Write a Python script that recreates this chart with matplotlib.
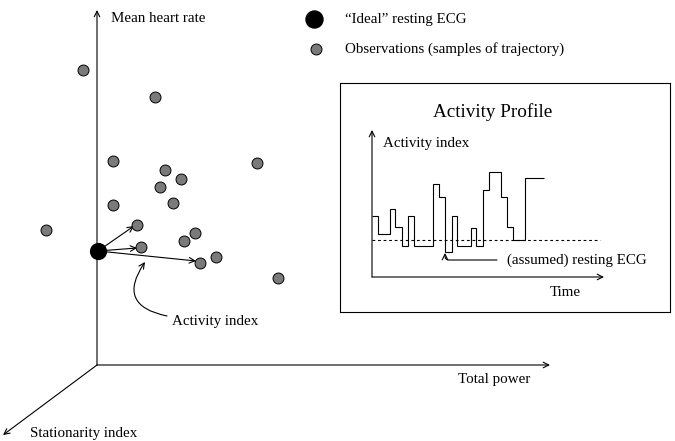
import matplotlib.pyplot as plt

plt.rcParams['font.family'] = ['Liberation Serif', 'DejaVu Serif']

# observations (total power, mean heart rate), origin = axes corner
obs_x = [-14, 58, 16, 68, 84, 63, 160, 16, 76, 40, -51, 98, 87, 44, 119, 103, 181]
obs_y = [295, 268, 204, 195, 186, 178, 202, 160, 162, 140, 135, 132, 124, 118, 108, 102, 87]
ideal = (1, 114)
# arrows from ideal point towards a few observations
act_x = [37, 40, 99]
act_y = [139, 117, 104]

# activity profile (inset), step function
step_edges = [0, 6, 18, 23, 30, 36, 42, 61, 67, 73, 80, 85, 99, 104, 111, 117, 129, 135, 141, 153, 172]
step_levels = [61, 43, 68, 50, 31, 61, 31, 93, 80, 25, 61, 31, 49, 31, 87, 105, 80, 50, 37, 99]
resting_level = 37

fs = 10.8

fig = plt.figure(figsize=(6.75, 4.41), dpi=100)
ax = fig.add_axes([0, 0, 1, 1])
ax.set_xlim(-97, 578)
ax.set_ylim(-76, 365)
ax.axis('off')

lw = 0.8
arr = dict(arrowstyle='->', lw=lw, color='black', shrinkA=0, shrinkB=0)

# 3 axes
ax.annotate('', xy=(0, 355), xytext=(0, 0), arrowprops=arr)
ax.annotate('', xy=(453, 0), xytext=(0, 0), arrowprops=arr)
ax.annotate('', xy=(-94, -70), xytext=(0, 0), arrowprops=arr)
ax.text(14, 346, 'Mean heart rate', fontsize=fs, va='center')
ax.text(361, -14, 'Total power', fontsize=fs, va='center')
ax.text(-67, -68, 'Stationarity index', fontsize=fs, va='center')

# activity index arrows
for x, y in zip(act_x, act_y):
    ax.annotate('', xy=(x, y), xytext=ideal, arrowprops=arr)

ax.scatter(obs_x, obs_y, s=62, color='#7a7a7a', edgecolors='black', linewidths=0.7, zorder=3)
ax.scatter([ideal[0]], [ideal[1]], s=130, color='black', zorder=4)

ax.annotate('', xy=(48, 103), xytext=(70, 49),
            arrowprops=dict(arr, connectionstyle='arc3,rad=-0.75'))
ax.text(75, 43, 'Activity index', fontsize=fs, va='center')

# legend
ax.scatter([217], [346], s=150, color='black')
ax.scatter([219], [316], s=62, color='#7a7a7a', edgecolors='black', linewidths=0.7)
ax.text(248, 346, '\u201cIdeal\u201d resting ECG', fontsize=fs, va='center')
ax.text(248, 316, 'Observations (samples of trajectory)', fontsize=fs, va='center')

# inset: activity profile
ins = fig.add_axes([340 / 675, 1 - 312 / 441, 330 / 675, 229 / 441])
ins.set_xlim(-32, 298)
ins.set_ylim(-35, 194)
ins.set_xticks([])
ins.set_yticks([])
for sp in ins.spines.values():
    sp.set_linewidth(lw)

ins.annotate('', xy=(0, 147), xytext=(0, 0), arrowprops=arr)
ins.annotate('', xy=(232, 0), xytext=(0, 0), arrowprops=arr)
ins.stairs(step_levels, step_edges, baseline=None, color='black', lw=lw)
ins.plot([0, 228], [resting_level, resting_level], color='black', lw=lw, ls=(0, (2.5, 2.5)))

ins.text(121, 165, 'Activity Profile', fontsize=13.8, ha='center', va='center')
ins.text(11, 134, 'Activity index', fontsize=fs, va='center')
ins.text(178, -15, 'Time', fontsize=fs, va='center')
ins.text(135, 17, '(assumed) resting ECG', fontsize=fs, va='center')
ins.annotate('', xy=(73, 24), xytext=(125, 17),
             arrowprops=dict(arr, connectionstyle='angle,angleA=0,angleB=90,rad=4'))

fig.savefig('out.png', dpi=100)
